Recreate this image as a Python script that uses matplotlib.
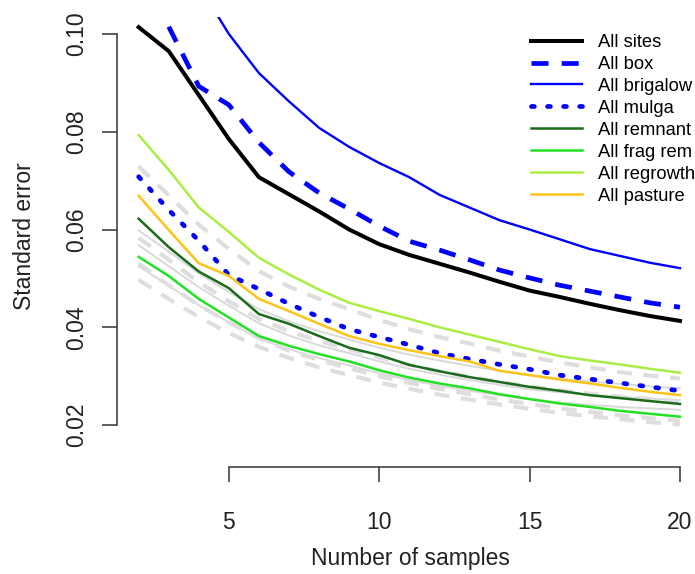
import matplotlib
matplotlib.use('Agg')
import matplotlib.pyplot as plt

plt.rcParams['font.family'] = ['Liberation Sans', 'DejaVu Sans']

n = list(range(2, 21))

sites = [0.1014, 0.0965, 0.0875, 0.0785, 0.0707, 0.0672, 0.0637, 0.0600, 0.0570, 0.0548,
         0.0530, 0.0512, 0.0493, 0.0475, 0.0462, 0.0448, 0.0435, 0.0423, 0.0413]
box = [0.1015, 0.0893, 0.0855, 0.0778, 0.0718, 0.0675, 0.0642, 0.0607, 0.0576,
       0.0558, 0.0538, 0.0517, 0.0501, 0.0486, 0.0474, 0.0462, 0.0450, 0.0441]      # n = 3..20
brigalow = [0.1100, 0.1000, 0.0920, 0.0862, 0.0808, 0.0769, 0.0736, 0.0707, 0.0671,
            0.0645, 0.0619, 0.0600, 0.0580, 0.0560, 0.0546, 0.0532, 0.0521]        # n = 4..20
mulga = [0.0708, 0.0640, 0.0577, 0.0507, 0.0478, 0.0448, 0.0421, 0.0396, 0.0380, 0.0364,
         0.0347, 0.0335, 0.0324, 0.0314, 0.0302, 0.0294, 0.0286, 0.0278, 0.0270]
remnant = [0.0622, 0.0564, 0.0514, 0.0480, 0.0427, 0.0407, 0.0382, 0.0358, 0.0343, 0.0323,
           0.0310, 0.0298, 0.0288, 0.0278, 0.0270, 0.0261, 0.0255, 0.0249, 0.0243]
fragrem = [0.0544, 0.0505, 0.0458, 0.0420, 0.0382, 0.0362, 0.0345, 0.0330, 0.0312, 0.0297,
           0.0285, 0.0275, 0.0263, 0.0253, 0.0244, 0.0237, 0.0229, 0.0223, 0.0217]
regrowth = [0.0793, 0.0722, 0.0645, 0.0595, 0.0542, 0.0508, 0.0477, 0.0450, 0.0433, 0.0417,
            0.0400, 0.0385, 0.0370, 0.0355, 0.0341, 0.0332, 0.0324, 0.0315, 0.0307]
pasture = [0.0669, 0.0599, 0.0531, 0.0505, 0.0458, 0.0433, 0.0407, 0.0382, 0.0366, 0.0353,
           0.0341, 0.0330, 0.0311, 0.0302, 0.0293, 0.0285, 0.0276, 0.0268, 0.0261]

# unlabelled sub-groups drawn in grey
grey_solid = [
    [0.0598, 0.0555, 0.0510, 0.0472, 0.0437, 0.0412, 0.0392, 0.0375, 0.0358, 0.0344,
     0.0332, 0.0321, 0.0311, 0.0302, 0.0295, 0.0289, 0.0284, 0.0279, 0.0275],
    [0.0568, 0.0525, 0.0482, 0.0444, 0.0408, 0.0383, 0.0363, 0.0347, 0.0330, 0.0315,
     0.0303, 0.0292, 0.0282, 0.0273, 0.0267, 0.0262, 0.0258, 0.0254, 0.0251],
    [0.0525, 0.0485, 0.0445, 0.0410, 0.0377, 0.0355, 0.0337, 0.0322, 0.0306, 0.0292,
     0.0280, 0.0270, 0.0261, 0.0253, 0.0246, 0.0241, 0.0237, 0.0234, 0.0231],
]
grey_dashed = [
    [0.0729, 0.0670, 0.0610, 0.0560, 0.0515, 0.0483, 0.0458, 0.0437, 0.0415, 0.0396,
     0.0380, 0.0367, 0.0352, 0.0340, 0.0328, 0.0318, 0.0308, 0.0301, 0.0295],
    [0.0583, 0.0538, 0.0492, 0.0453, 0.0417, 0.0392, 0.0372, 0.0355, 0.0338, 0.0323,
     0.0310, 0.0299, 0.0288, 0.0279, 0.0271, 0.0264, 0.0258, 0.0253, 0.0248],
    [0.0530, 0.0486, 0.0445, 0.0410, 0.0378, 0.0352, 0.0333, 0.0316, 0.0300, 0.0286,
     0.0274, 0.0263, 0.0252, 0.0243, 0.0234, 0.0227, 0.0220, 0.0214, 0.0209],
    [0.0497, 0.0458, 0.0421, 0.0388, 0.0360, 0.0337, 0.0318, 0.0302, 0.0287, 0.0274,
     0.0262, 0.0252, 0.0242, 0.0233, 0.0225, 0.0218, 0.0212, 0.0206, 0.0201],
]

fig = plt.figure(figsize=(6.95, 5.74), dpi=100)
ax = fig.add_axes([117/695, 1 - 467/574, 584.6/695, 450/574])

for g in grey_solid:
    ax.plot(n, g, color='#d9d9d9', lw=1.4)
for g in grey_dashed:
    ax.plot(n, g, color='#dedede', lw=3.0, linestyle=(0, (3.6, 2.8)))

ax.plot(n, sites, color='black', lw=2.9, label='All sites')
ax.plot(n[1:], box, color='#0000ff', lw=3.4, linestyle=(0, (3.6, 2.8)), label='All box')
ax.plot(n[2:], brigalow, color='#0000ff', lw=1.7, label='All brigalow')
ax.plot(n, mulga, color='#0000ff', lw=3.4, linestyle=(0, (0.6, 2.8)),
        dash_capstyle='round', label='All mulga')
ax.plot(n, remnant, color='#1b6b1b', lw=1.8, label='All remnant')
ax.plot(n, fragrem, color='#22e022', lw=1.8, label='All frag rem')
ax.plot(n, regrowth, color='#aaee44', lw=1.8, label='All regrowth')
ax.plot(n, pasture, color='#fcc419', lw=1.8, label='All pasture')

ax.set_xlim(1.28, 20.72)
ax.set_ylim(0.10 - (467 - 34) / 4887.5, 0.10 + 17 / 4887.5)

for s in ['top', 'right']:
    ax.spines[s].set_visible(False)
ax.spines['left'].set_bounds(0.02, 0.10)
ax.spines['bottom'].set_bounds(5, 20)
for s in ['left', 'bottom']:
    ax.spines[s].set_color('#333333')
    ax.spines[s].set_linewidth(1.1)

ax.set_xticks([5, 10, 15, 20])
ax.set_yticks([0.02, 0.04, 0.06, 0.08, 0.10])
ax.set_yticklabels(['0.02', '0.04', '0.06', '0.08', '0.10'], rotation=90, va='center')
ax.tick_params(length=10.5, width=1.1, color='#333333', labelsize=16.5, labelcolor='#222222')
ax.tick_params(axis='x', pad=21)
ax.tick_params(axis='y', pad=10)

fig.text(410/695, 1 - 559/574, 'Number of samples', ha='center', va='center',
         fontsize=16.5, color='#222222')
fig.text(25/695, 1 - 236/574, 'Standard error', ha='center', va='center',
         rotation=90, fontsize=16.5, color='#222222')

ax.legend(loc='upper left', bbox_to_anchor=(531/695, 1 - 34/574), bbox_transform=fig.transFigure,
          frameon=False, fontsize=13.2, handlelength=2.78, handletextpad=0.87,
          labelspacing=0.27, borderpad=0, borderaxespad=0)

fig.savefig('out.png', dpi=100)
